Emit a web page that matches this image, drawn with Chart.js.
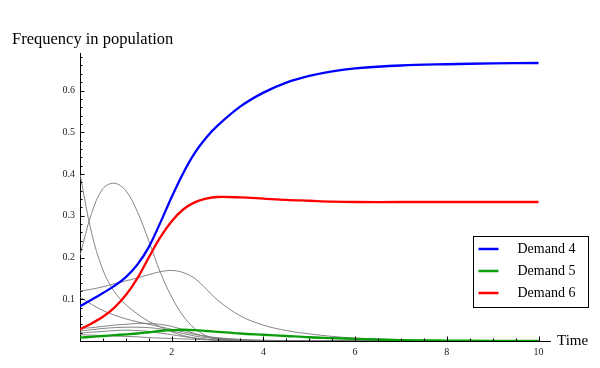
<!DOCTYPE html>
<html>
<head>
<meta charset="utf-8">
<script src="https://cdn.jsdelivr.net/npm/chart.js@4"></script>
<style>
  body { margin: 0; background: #fff; }
  .wrap { width: 600px; height: 368px; position: relative; }
</style>
</head>
<body>
<div class="wrap"><canvas id="freq-chart"></canvas></div>
<script>
// шкала времени и значения кривых
const time = [0, 0.25, 0.5, 0.75, 1, 1.25, 1.5, 1.75, 2, 2.25, 2.5, 2.75, 3, 3.5, 4, 4.5, 5, 5.5, 6, 7, 8, 9, 10];

const demand4 = [0.083, 0.099, 0.115, 0.132, 0.153, 0.183, 0.225, 0.283, 0.345, 0.402, 0.45, 0.487, 0.516, 0.562, 0.595, 0.619, 0.635, 0.646, 0.653, 0.66, 0.663, 0.665, 0.666];
const demand5 = [0.008, 0.01, 0.012, 0.014, 0.016, 0.018, 0.021, 0.024, 0.026, 0.027, 0.026, 0.024, 0.022, 0.018, 0.015, 0.012, 0.009, 0.007, 0.005, 0.002, 0.001, 0.0005, 0.0002];
const demand6 = [0.028, 0.042, 0.058, 0.08, 0.11, 0.15, 0.2, 0.248, 0.287, 0.315, 0.332, 0.341, 0.345, 0.344, 0.341, 0.338, 0.336, 0.334, 0.333, 0.333, 0.333, 0.333, 0.333];

const otherDemands = [
  [0.4, 0.26, 0.17, 0.118, 0.087, 0.065, 0.047, 0.034, 0.022, 0.013, 0.007, 0.004, 0.002, 0.001, 0, 0, 0, 0, 0, 0, 0, 0, 0],
  [0.205, 0.305, 0.365, 0.378, 0.36, 0.31, 0.24, 0.165, 0.105, 0.06, 0.03, 0.013, 0.005, 0.001, 0, 0, 0, 0, 0, 0, 0, 0, 0],
  [0.12, 0.124, 0.13, 0.137, 0.144, 0.151, 0.159, 0.166, 0.169, 0.164, 0.15, 0.125, 0.098, 0.06, 0.038, 0.025, 0.017, 0.011, 0.007, 0.003, 0.001, 0.0005, 0.0002],
  [0.105, 0.088, 0.073, 0.062, 0.053, 0.046, 0.04, 0.034, 0.028, 0.022, 0.016, 0.011, 0.008, 0.004, 0.002, 0.001, 0, 0, 0, 0, 0, 0, 0],
  [0.03, 0.032, 0.035, 0.038, 0.04, 0.042, 0.042, 0.04, 0.035, 0.027, 0.018, 0.011, 0.007, 0.002, 0.001, 0, 0, 0, 0, 0, 0, 0, 0],
  [0.024, 0.027, 0.03, 0.032, 0.033, 0.033, 0.032, 0.029, 0.024, 0.018, 0.012, 0.008, 0.005, 0.002, 0.001, 0, 0, 0, 0, 0, 0, 0, 0],
  [0.019, 0.021, 0.023, 0.025, 0.026, 0.025, 0.023, 0.019, 0.015, 0.011, 0.007, 0.004, 0.002, 0.001, 0, 0, 0, 0, 0, 0, 0, 0, 0],
  [0.015, 0.014, 0.013, 0.012, 0.011, 0.01, 0.008, 0.007, 0.006, 0.005, 0.004, 0.003, 0.002, 0.001, 0, 0, 0, 0, 0, 0, 0, 0, 0],
];

const legendNames = ['Demand 4', 'Demand 5', 'Demand 6'];
const legendColors = ['#0000ff', '#0a9e0a', '#ff0000'];
const mainSeries = [demand4, demand5, demand6];

const xTicks = [0, 2, 4, 6, 8, 10];
const yTicks = [0, 0.1, 0.2, 0.3, 0.4, 0.5, 0.6];

const serif = '"Liberation Serif", "DejaVu Serif", serif';

const toPoints = (values) => values.map((v, i) => ({ x: time[i], y: v }));

const datasets = [];
mainSeries.forEach((values, i) => {
  datasets.push({
    label: legendNames[i],
    data: toPoints(values),
    borderColor: legendColors[i],
    borderWidth: 2.3,
    pointRadius: 0,
    tension: 0.35,
  });
});
otherDemands.forEach((values) => {
  datasets.push({
    label: '',
    data: toPoints(values),
    borderColor: 'rgba(120, 120, 120, 0.9)',
    borderWidth: 1,
    pointRadius: 0,
    tension: 0.35,
  });
});

// засечки внутрь графика, как в Mathematica
const inwardTicks = {
  id: 'inwardTicks',
  afterDraw: (chart) => {
    const ctx = chart.ctx;
    const xs = chart.scales.x;
    const ys = chart.scales.y;
    const area = chart.chartArea;
    ctx.save();
    ctx.strokeStyle = '#000';
    ctx.lineWidth = 1;
    ctx.beginPath();
    for (let i = 1; i <= 20; i++) {
      const px = Math.round(xs.getPixelForValue(i * 0.5)) + 0.5;
      const len = i % 4 === 0 ? 4.5 : 2.5;
      ctx.moveTo(px, area.bottom);
      ctx.lineTo(px, area.bottom - len);
    }
    for (let i = 1; i <= 34; i++) {
      const py = Math.round(ys.getPixelForValue(i * 0.02)) + 0.5;
      const len = i % 5 === 0 ? 4.5 : 2.5;
      ctx.moveTo(area.left, py);
      ctx.lineTo(area.left + len, py);
    }
    ctx.stroke();

    ctx.fillStyle = '#000';
    ctx.font = '15px ' + serif;
    ctx.textBaseline = 'middle';
    ctx.textAlign = 'left';
    ctx.fillText('Time', area.right + 7, area.bottom);
    ctx.restore();
  },
};

// легенда в рамке справа
const boxLegend = {
  id: 'boxLegend',
  afterDraw: (chart) => {
    const ctx = chart.ctx;
    const area = chart.chartArea;
    const left = area.right - 76.5;
    const top = area.bottom - 104.5;
    ctx.save();
    ctx.fillStyle = '#fff';
    ctx.fillRect(left, top, 115, 71);
    ctx.strokeStyle = '#000';
    ctx.lineWidth = 1;
    ctx.strokeRect(left, top, 115, 71);
    ctx.font = '14px ' + serif;
    ctx.textBaseline = 'middle';
    ctx.textAlign = 'left';
    legendNames.forEach((name, i) => {
      const y = top + 12.5 + i * 22;
      ctx.strokeStyle = legendColors[i];
      ctx.lineWidth = 2.5;
      ctx.beginPath();
      ctx.moveTo(left + 5, y);
      ctx.lineTo(left + 25, y);
      ctx.stroke();
      ctx.fillStyle = '#000';
      ctx.fillText(name, left + 44, y);
    });
    ctx.restore();
  },
};

new Chart(document.getElementById('freq-chart'), {
  type: 'line',
  data: { datasets },
  options: {
    responsive: true,
    maintainAspectRatio: false,
    animation: false,
    layout: { padding: { left: 12, right: 50, top: 0, bottom: 0 } },
    plugins: {
      legend: { display: false },
      tooltip: { enabled: false },
      title: {
        display: true,
        text: 'Frequency in population',
        align: 'start',
        color: '#000',
        font: { family: serif, size: 16.5, weight: 'normal', lineHeight: 1.2 },
        padding: { top: 30, bottom: 4 },
      },
    },
    scales: {
      x: {
        type: 'linear',
        min: 0,
        max: 10.25,
        afterFit: (scale) => { scale.height = 27; },
        afterBuildTicks: (scale) => { scale.ticks = xTicks.map(v => ({ value: v })); },
        border: { display: true, color: '#000', width: 1 },
        grid: { display: false, drawTicks: false },
        ticks: {
          padding: 5,
          maxRotation: 0,
          autoSkip: false,
          color: '#222',
          font: { family: serif, size: 10 },
          callback: (v) => (v > 0 ? String(v) : ''),
        },
      },
      y: {
        type: 'linear',
        min: 0,
        max: 0.688,
        afterFit: (scale) => { scale.width = 68; },
        afterBuildTicks: (scale) => { scale.ticks = yTicks.map(v => ({ value: v })); },
        border: { display: true, color: '#000', width: 1 },
        grid: { display: false, drawTicks: false },
        ticks: {
          padding: 5,
          autoSkip: false,
          color: '#222',
          font: { family: serif, size: 10 },
          callback: (v) => (v > 0 ? v.toFixed(1) : ''),
        },
      },
    },
  },
  plugins: [inwardTicks, boxLegend],
});
</script>
</body>
</html>
